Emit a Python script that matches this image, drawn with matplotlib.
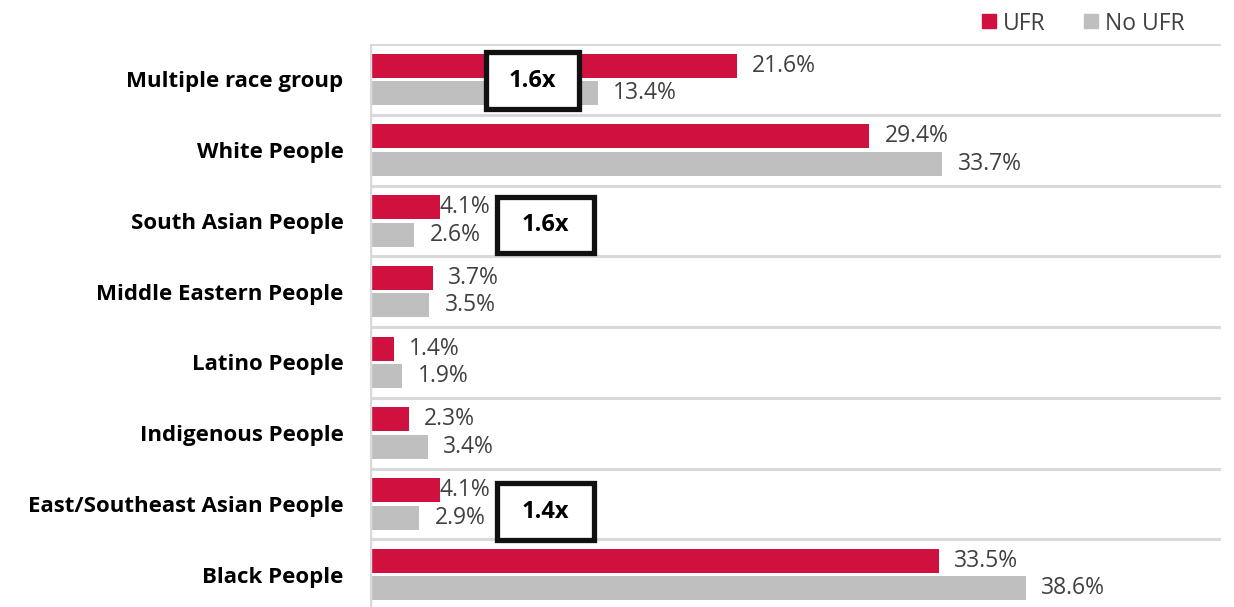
import matplotlib
matplotlib.use("Agg")
import matplotlib.pyplot as plt
import matplotlib.patches as mpatches
from matplotlib.lines import Line2D

plt.rcParams['font.family'] = ['Open Sans', 'DejaVu Sans']

categories = ['Multiple race group', 'White People', 'South Asian People',
              'Middle Eastern People', 'Latino People', 'Indigenous People',
              'East/Southeast Asian People', 'Black People']
ufr = [21.6, 29.4, 4.1, 3.7, 1.4, 2.3, 4.1, 33.5]
no_ufr = [13.4, 33.7, 2.6, 3.5, 1.9, 3.4, 2.9, 38.6]
series_names = ['UFR', 'No UFR']
ratio_rows = [0, 2, 6]
ratio_labels = ['1.6x', '1.6x', '1.4x']

RED = '#D0103F'
GRAY = '#BFBFBF'
TXT = '#404040'
GRID = '#D9D9D9'

fig = plt.figure(figsize=(12.34, 6.07), dpi=100)
ax = fig.add_axes([370 / 1234, -0.005, (1221 - 370) / 1234, 0.9325])

ys = list(range(len(categories)))
off = 0.195
h = 0.34
ax.barh([y - off for y in ys], ufr, height=h, color=RED, zorder=3)
ax.barh([y + off for y in ys], no_ufr, height=h, color=GRAY, zorder=3)

ax.set_xlim(0, 50.1)
ax.set_ylim(len(categories) - 0.5, -0.5)

for y in ys:
    ax.axhline(y - 0.5, color=GRID, lw=2.2, zorder=1)
ax.axvline(0, color=GRID, lw=2.5, zorder=4)

# value labels; a couple were nudged in the source chart
nudge = {(2, 0): 0.0, (6, 0): 0.0}
for i in ys:
    for s, vals in enumerate([ufr, no_ufr]):
        yy = i - off if s == 0 else i + off
        dx = nudge.get((i, s), 0.9)
        ax.text(vals[i] + dx, yy, f'{vals[i]:.1f}%', va='center', ha='left',
                fontsize=16.5, color=TXT)

ax.set_yticks(ys)
ax.set_yticklabels(categories, fontsize=16, fontweight='bold', color='black')
ax.tick_params(axis='y', length=0, pad=19)
ax.set_xticks([])
for sp in ax.spines.values():
    sp.set_visible(False)

# ratio callout boxes (x-left, x-right in data units, y-center shift)
box_pos = [(6.8, 12.3, 0.02), (7.5, 13.2, 0.06), (7.5, 13.2, 0.11)]
for r, lab, (x0, x1, dy) in zip(ratio_rows, ratio_labels, box_pos):
    bh = 0.8
    rect = mpatches.Rectangle((x0, r + dy - bh / 2), x1 - x0, bh,
                              facecolor='white', edgecolor='#111111',
                              lw=3.8, zorder=6)
    ax.add_patch(rect)
    ax.text((x0 + x1) / 2, r + dy, lab, ha='center', va='center',
            fontsize=17, fontweight='bold', color='black', zorder=7)

handles = [Line2D([], [], marker='s', ls='', color=RED, markersize=10),
           Line2D([], [], marker='s', ls='', color=GRAY, markersize=10)]
leg = fig.legend(handles, series_names, loc='upper right',
                 bbox_to_anchor=(1205 / 1234, 1.015), ncol=2, frameon=False,
                 fontsize=16.5, handletextpad=0.1, columnspacing=1.5,
                 handlelength=1.0)
for t in leg.get_texts():
    t.set_color(TXT)

fig.savefig('out.png', dpi=100)
